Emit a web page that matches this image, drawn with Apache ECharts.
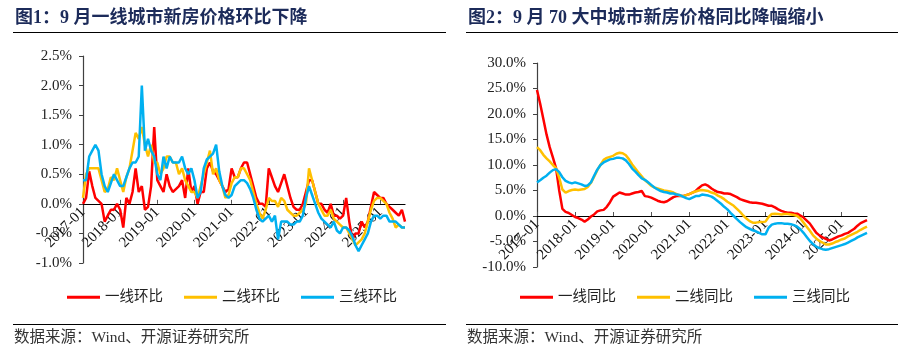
<!DOCTYPE html>
<html><head><meta charset="utf-8">
<script src="https://cdn.jsdelivr.net/npm/echarts@6/dist/echarts.min.js"></script>
<style>html,body{margin:0;padding:0;background:#fff}#c{width:923px;height:362px}</style>
</head><body><div id="c"></div>
<script>
// ---- categories (2017-01 .. 2025-09)
const startYear = 2017, endYear = 2025, endMonth = 9;
const months = [];
for (let y = startYear; y <= endYear; y++) {
  for (let m = 1; m <= 12; m++) {
    if (y === endYear && m > endMonth) break;
    months.push(y + '-' + (m < 10 ? '0' + m : m));
  }
}

// ---- Figure 1: month-on-month (%)
const t1MoM = [
  0.0, 0.1, 0.55, 0.3, 0.1, 0.05, 0.0, -0.3, -0.2, -0.1, -0.1, 0.0,
  -0.1, -0.4, 0.1, 0.0, 0.2, 0.6, 0.2, 0.3, -0.1, -0.05, 0.3, 1.3,
  0.4, 0.3, 0.2, 0.5, 0.3, 0.2, 0.25, 0.3, 0.4, 0.1, 0.6, 0.2,
  0.3, 0.0, 0.2, 0.2, 0.6, 0.7, 0.55, 0.5, 0.4, 0.3, 0.2, 0.25,
  0.6, 0.45, 0.45, 0.6, 0.7, 0.7, 0.5, 0.3, 0.1, 0.0, 0.0, -0.05,
  0.6, 0.45, 0.3, 0.2, 0.35, 0.5, 0.3, 0.1, -0.05, -0.1, -0.1, 0.0,
  0.2, 0.4, 0.4, 0.2, 0.0, 0.0, -0.1, -0.15, 0.0, -0.2, -0.2, -0.25,
  -0.2, 0.1, -0.3, -0.6, -0.5, -0.5, -0.3, -0.4, -0.3, -0.05, 0.2, 0.15,
  0.1, 0.1, 0.0, -0.05, -0.1, -0.15, -0.2, -0.1, -0.3
];
const t2MoM = [
  0.1, 0.5, 0.6, 0.6, 0.6, 0.6, 0.4, 0.2, 0.25, 0.45, 0.4, 0.6,
  0.4, 0.2, 0.45, 0.6, 0.9, 1.2, 1.1, 1.3, 1.0, 0.8, 1.0, 0.7,
  0.7, 0.5, 0.6, 0.8, 0.8, 0.7, 0.7, 0.5, 0.6, 0.4, 0.3, 0.2,
  0.2, 0.1, 0.3, 0.5, 0.7, 0.9, 0.5, 0.6, 0.4, 0.3, 0.1, 0.15,
  0.35, 0.45, 0.45, 0.6, 0.6, 0.5, 0.4, 0.2, 0.0, -0.15, -0.25, -0.1,
  0.1, 0.05, 0.05, -0.05, 0.1, 0.05, -0.1, -0.15, -0.2, -0.2, -0.15, -0.1,
  0.0, 0.6, 0.4, 0.2, 0.0, -0.1, -0.2, -0.2, -0.1, -0.25, -0.3, -0.35,
  -0.4, -0.4, -0.5, -0.6, -0.7, -0.65, -0.6, -0.5, -0.3, -0.1, 0.05, 0.1,
  0.1, 0.05, 0.0, -0.15, -0.25, -0.4, -0.35, -0.4, -0.4
];
const t3MoM = [
  0.4, 0.4, 0.8, 0.9, 1.0, 0.9, 0.5, 0.3, 0.2, 0.35, 0.5, 0.4,
  0.3, 0.3, 0.45, 0.6, 0.7, 0.7, 0.8, 2.0, 0.9, 1.1, 0.9, 0.8,
  0.5, 0.4, 0.8, 0.6, 0.8, 0.7, 0.7, 0.7, 0.8, 0.6, 0.5, 0.6,
  0.4, 0.1, 0.2, 0.6, 0.75, 0.8, 0.85, 1.0, 0.55, 0.3, 0.15, 0.1,
  0.15, 0.3, 0.35, 0.4, 0.4, 0.35, 0.25, 0.1, -0.1, -0.25, -0.3, -0.25,
  -0.2, -0.3, -0.2, -0.6, -0.3, -0.3, -0.3, -0.35, -0.35, -0.3, -0.3, -0.2,
  0.1, 0.3, 0.15, 0.0, -0.15, -0.25, -0.3, -0.35, -0.4, -0.3, -0.45, -0.5,
  -0.4, -0.4, -0.45, -0.55, -0.7, -0.8, -0.7, -0.6, -0.5, -0.3, -0.2, -0.2,
  -0.25, -0.2, -0.2, -0.3, -0.3, -0.3, -0.35, -0.4, -0.4
];

// ---- Figure 2: year-on-year (%)
const t1YoY = [
  24.7, 22.0, 19.0, 16.0, 13.5, 11.5, 9.4, 5.0, 1.4, 0.8, 0.6, 0.2,
  -0.2, -0.4, -0.7, -1.1, -0.7, -0.1, 0.3, 0.9, 1.1, 1.2, 1.8, 2.7,
  3.8, 4.2, 4.6, 4.4, 4.2, 4.2, 4.4, 4.6, 4.7, 4.9, 3.9, 3.8,
  3.6, 3.3, 3.0, 2.8, 2.7, 2.9, 3.3, 3.7, 3.9, 3.9, 3.9, 4.1,
  4.3, 4.6, 4.9, 5.5, 6.0, 6.2, 5.9, 5.4, 5.0, 4.7, 4.6, 4.4,
  4.4, 4.3, 4.0, 3.7, 3.3, 3.1, 2.9, 2.7, 2.6, 2.6, 2.5, 2.4,
  2.2, 2.0, 2.0, 1.7, 1.3, 1.0, 0.8, 0.65, 0.65, 0.5, 0.45, 0.1,
  -0.3, -0.9, -1.5, -2.4, -3.3, -3.8, -4.2, -4.5, -4.8, -4.6, -4.3, -4.0,
  -3.8, -3.5, -3.3, -2.9, -2.5, -1.9, -1.4, -1.1, -0.8
];
const t2YoY = [
  13.5, 12.9, 12.0, 11.3, 10.7, 10.0, 9.4, 7.5, 5.2, 4.6, 4.9, 5.1,
  5.2, 5.1, 5.2, 5.3, 5.7, 6.5, 7.7, 9.0, 10.0, 11.0, 11.4, 11.6,
  11.8, 12.2, 12.4, 12.3, 11.9, 11.1, 10.1, 9.3, 8.5, 7.8, 7.0, 6.5,
  5.9, 5.6, 5.4, 5.2, 5.0, 4.9, 4.8, 4.6, 4.3, 4.0, 3.9, 4.1,
  4.3, 4.6, 4.8, 5.0, 5.1, 5.0, 4.9, 4.6, 4.4, 4.0, 3.7, 3.3,
  2.8, 2.4, 2.0, 1.4, 0.8, 0.1, -0.5, -1.0, -1.3, -1.3, -1.2, -1.2,
  -1.1, -0.2, 0.4, 0.45, 0.4, 0.3, 0.4, 0.4, 0.3, 0.2, 0.0, -0.5,
  -1.3, -2.1, -2.9, -3.8, -4.4, -4.9, -5.2, -5.6, -5.6, -5.4, -5.1, -4.9,
  -4.6, -4.4, -4.0, -3.7, -3.4, -3.1, -2.7, -2.4, -2.1
];
const t3YoY = [
  6.6, 7.0, 7.5, 7.9, 8.5, 9.0, 9.2, 8.6, 7.6, 6.9, 6.6, 6.4,
  6.6, 6.4, 6.2, 5.9, 6.0, 6.6, 7.9, 9.1, 10.0, 10.5, 10.8, 11.1,
  11.2, 11.4, 11.4, 11.3, 10.9, 10.2, 9.3, 8.7, 8.0, 7.4, 7.1, 6.6,
  6.1, 5.6, 5.2, 4.9, 4.7, 4.6, 4.4, 4.4, 4.2, 4.1, 3.8, 3.5,
  3.3, 3.6, 3.9, 3.9, 4.2, 4.1, 4.0, 3.8, 3.4, 2.9, 2.4, 1.8,
  1.3, 0.6, 0.0, -0.6, -1.2, -1.7, -2.2, -2.5, -2.8, -3.0, -3.3, -3.6,
  -3.6, -2.3, -1.7, -1.5, -1.4, -1.4, -1.5, -1.5, -1.6, -1.8, -2.1, -2.6,
  -3.3, -4.1, -4.9, -5.5, -6.0, -6.3, -6.5, -6.6, -6.5, -6.3, -6.1, -5.9,
  -5.7, -5.5, -5.2, -4.9, -4.6, -4.2, -3.9, -3.6, -3.3
];

const names1 = ['一线环比', '二线环比', '三线环比'];
const names2 = ['一线同比', '二线同比', '三线同比'];
const colors = ['#ff0000', '#ffc000', '#00b0f0'];

const SERIF = '"Liberation Serif", "Times New Roman", "Noto Sans CJK SC", serif';
const CJK = '"Liberation Serif", "Noto Sans CJK SC", serif';

// grid geometry
const G = [
  { left: 83, top: 56, width: 322, height: 207, min: -1, max: 2.5, step: 0.5 },
  { left: 537, top: 63, width: 330, height: 204, min: -10, max: 30, step: 5 }
];

function xAx(gi) {
  const g = G[gi];
  const every = function (i) { return i % 12 === 0; };
  // place the category axis on the zero line of the value axis
  const zeroOffset = -g.height * (0 - g.min) / (g.max - g.min);
  return {
    type: 'category', gridIndex: gi, data: months, boundaryGap: false,
    offset: zeroOffset,
    axisLine: { onZero: false, lineStyle: { color: '#000', width: 1.2 } },
    axisTick: { show: true, inside: true, length: 4, interval: every, lineStyle: { color: '#555' } },
    axisLabel: { interval: every, rotate: 45, fontFamily: SERIF, fontSize: 15, color: '#111', margin: 6 },
    splitLine: { show: false }
  };
}
function yAx(gi) {
  const g = G[gi];
  return {
    type: 'value', gridIndex: gi, min: g.min, max: g.max, interval: g.step,
    axisLine: { show: true, lineStyle: { color: '#404040', width: 1.2 } },
    axisTick: { show: true, length: 4, lineStyle: { color: '#404040' } },
    splitLine: { show: false },
    axisLabel: { formatter: function (v) { return v.toFixed(1) + '%'; }, fontFamily: SERIF, fontSize: 15, color: '#222', margin: 11 }
  };
}
function ser(name, data, color, gi) {
  return {
    name: name, type: 'line', data: data, xAxisIndex: gi, yAxisIndex: gi,
    showSymbol: false, symbol: 'none', animation: false,
    lineStyle: { color: color, width: 2.5 }, itemStyle: { color: color }
  };
}
function legend(names, left) {
  return {
    data: names, left: left, top: 285, icon: 'rect', itemWidth: 33, itemHeight: 3,
    itemGap: 21, textStyle: { fontFamily: CJK, fontSize: 14.5, color: '#222' }
  };
}

const chart = echarts.init(document.getElementById('c'));
chart.setOption({
  animation: false,
  grid: G.map(function (g) { return { left: g.left, top: g.top, width: g.width, height: g.height }; }),
  xAxis: [xAx(0), xAx(1)],
  yAxis: [yAx(0), yAx(1)],
  legend: [legend(names1, 62), legend(names2, 515)],
  series: [
    ser(names1[0], t1MoM, colors[0], 0),
    ser(names1[1], t2MoM, colors[1], 0),
    ser(names1[2], t3MoM, colors[2], 0),
    ser(names2[0], t1YoY, colors[0], 1),
    ser(names2[1], t2YoY, colors[1], 1),
    ser(names2[2], t3YoY, colors[2], 1)
  ],
  graphic: [
    { type: 'text', x: 15, y: 18, style: { text: '图1：9 月一线城市新房价格环比下降', font: 'bold 18px ' + CJK, fill: '#1c2b5a', verticalAlign: 'middle' } },
    { type: 'text', x: 468, y: 18, style: { text: '图2：9 月 70 大中城市新房价格同比降幅缩小', font: 'bold 18px ' + CJK, fill: '#1c2b5a', verticalAlign: 'middle' } },
    { type: 'line', shape: { x1: 13, y1: 32.5, x2: 446, y2: 32.5 }, style: { stroke: '#000', lineWidth: 1.2 } },
    { type: 'line', shape: { x1: 466, y1: 32.5, x2: 898, y2: 32.5 }, style: { stroke: '#000', lineWidth: 1.2 } },
    { type: 'line', shape: { x1: 13, y1: 324.5, x2: 446, y2: 324.5 }, style: { stroke: '#000', lineWidth: 1.2 } },
    { type: 'line', shape: { x1: 466, y1: 324.5, x2: 898, y2: 324.5 }, style: { stroke: '#000', lineWidth: 1.2 } },
    { type: 'text', x: 14, y: 338, style: { text: '数据来源：Wind、开源证券研究所', font: '15.5px ' + CJK, fill: '#333', verticalAlign: 'middle' } },
    { type: 'text', x: 467, y: 338, style: { text: '数据来源：Wind、开源证券研究所', font: '15.5px ' + CJK, fill: '#333', verticalAlign: 'middle' } }
  ]
});
</script>
</body></html>
